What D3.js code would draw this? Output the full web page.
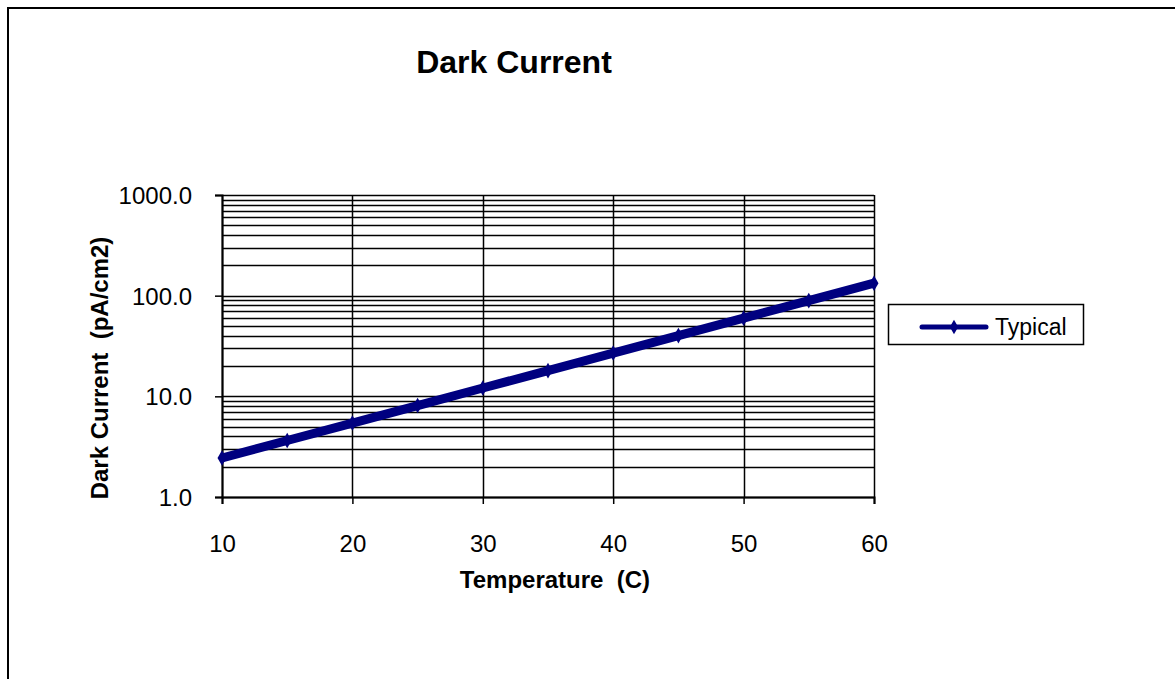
<!DOCTYPE html>
<html>
<head>
<meta charset="utf-8">
<script src="https://cdn.jsdelivr.net/npm/d3@7/dist/d3.min.js"></script>
<style>
  html, body { margin: 0; padding: 0; background: #fff; }
  svg { display: block; font-family: "Liberation Sans", Arial, sans-serif; }
</style>
</head>
<body>
<svg id="chart" width="1175" height="679"></svg>
<script>
// Data
const temperatures = [10, 15, 20, 25, 30, 35, 40, 45, 50, 55, 60];
const typical = [2.44, 3.64, 5.43, 8.1, 12.1, 18.0, 26.9, 40.1, 59.8, 89.3, 133];
const xTicks = [10, 20, 30, 40, 50, 60];
const yTicks = [1, 10, 100, 1000];
const seriesName = "Typical";
const titleText = "Dark Current";
const xTitle = "Temperature  (C)";
const yTitle = "Dark Current  (pA/cm2)";

const FONT = '"Liberation Sans", Arial, sans-serif';
const svg = d3.select("#chart");
const plot = { left: 222, right: 874, top: 195, bottom: 497 };

// outer border (extends past right/bottom edges)
svg.append("path")
  .attr("d", "M8,690 L8,8 L1190,8")
  .attr("fill", "none").attr("stroke", "#000").attr("stroke-width", 2);

const x = d3.scaleLinear().domain([10, 60]).range([plot.left, plot.right]);
const y = d3.scaleLog().domain([1, 1000]).range([plot.bottom, plot.top]);

// minor/major horizontal gridlines
const gridVals = [];
for (let d = 1; d < 1000; d *= 10) for (let k = 1; k <= 9; k++) gridVals.push(d * k);
gridVals.push(1000);

const g = svg.append("g");
g.selectAll("line.hg").data(gridVals).join("line")
  .attr("class", "hg")
  .attr("x1", plot.left).attr("x2", plot.right)
  .attr("y1", d => Math.round(y(d)) + 0.5).attr("y2", d => Math.round(y(d)) + 0.5)
  .attr("stroke", "#000").attr("stroke-width", 1.5);

// vertical gridlines
g.selectAll("line.vg").data(xTicks).join("line")
  .attr("class", "vg")
  .attr("y1", plot.top).attr("y2", plot.bottom)
  .attr("x1", d => Math.round(x(d)) + 0.5).attr("x2", d => Math.round(x(d)) + 0.5)
  .attr("stroke", "#000").attr("stroke-width", 1.5);

// axes
const yAxis = d3.axisLeft(y).tickValues(yTicks).tickFormat(d3.format(".1f")).tickSize(7);
const ya = svg.append("g").attr("transform", `translate(${plot.left},0)`).call(yAxis);
const xAxis = d3.axisBottom(x).tickValues(xTicks).tickFormat(d3.format("d")).tickSize(7);
const xa = svg.append("g").attr("transform", `translate(0,${plot.bottom})`).call(xAxis);
[ya, xa].forEach(a => {
  a.attr("font-size", null).attr("font-family", null);
  a.select(".domain").attr("stroke", "#000").attr("stroke-width", 2);
  a.selectAll(".tick line").attr("stroke", "#000").attr("stroke-width", 1.5);
  a.selectAll(".tick text").attr("fill", "#000")
   .attr("font-size", 24).attr("font-family", FONT);
});
ya.selectAll(".tick text").attr("dy", "0.35em").attr("x", -30);
xa.selectAll(".tick text").attr("dy", null).attr("y", 55);

// series line
const line = d3.line().x((d, i) => x(temperatures[i])).y(d => y(d));
svg.append("path").datum(typical)
  .attr("d", line)
  .attr("fill", "none").attr("stroke", "#000080").attr("stroke-width", 9)
  .attr("stroke-linejoin", "round");
// diamond markers (mostly hidden inside the thick line)
svg.selectAll("path.mk").data(typical).join("path")
  .attr("class", "mk")
  .attr("transform", (d, i) => `translate(${x(temperatures[i])},${y(d)})`)
  .attr("d", d3.symbol().type(d3.symbolDiamond).size(70))
  .attr("fill", "#000080");

// titles
svg.append("text").attr("x", 514).attr("y", 73).attr("text-anchor", "middle")
  .attr("font-size", 32).attr("font-weight", "bold").attr("font-family", FONT).text(titleText);
svg.append("text").attr("x", 555).attr("y", 588).attr("text-anchor", "middle")
  .attr("font-size", 24).attr("font-weight", "bold").attr("font-family", FONT)
  .style("white-space", "pre").text(xTitle);
svg.append("text").attr("transform", "translate(108,368) rotate(-90)").attr("text-anchor", "middle")
  .attr("font-size", 24).attr("font-weight", "bold").attr("font-family", FONT)
  .style("white-space", "pre").text(yTitle);

// legend
const lg = svg.append("g");
lg.append("rect").attr("x", 888.5).attr("y", 304.5).attr("width", 195).attr("height", 40)
  .attr("fill", "#fff").attr("stroke", "#000").attr("stroke-width", 1.5);
lg.append("line").attr("x1", 922).attr("x2", 986).attr("y1", 327).attr("y2", 327)
  .attr("stroke", "#000080").attr("stroke-width", 5).attr("stroke-linecap", "round");
lg.append("path").attr("transform", "translate(954,327)")
  .attr("d", d3.symbol().type(d3.symbolDiamond).size(60)).attr("fill", "#000080");
lg.append("text").attr("x", 995).attr("y", 335).attr("font-size", 23).attr("font-family", FONT).text(seriesName);
</script>
</body>
</html>
